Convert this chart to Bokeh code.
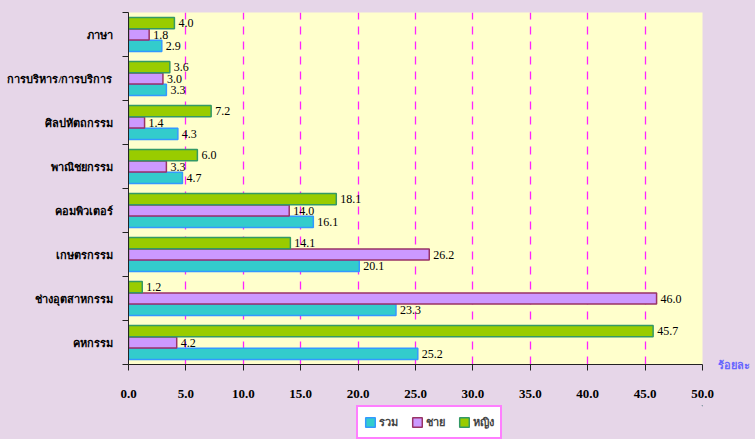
from bokeh.plotting import figure
from bokeh.layouts import column
from bokeh.models import (ColumnDataSource, Range1d, FixedTicker, Legend, LegendItem, LinearAxis)
from bokeh.core.properties import value
from bokeh.embed import file_html
from bokeh.resources import INLINE

# Data (top to bottom as in the chart)
categories = ["ภาษา", "การบริหาร/การบริการ", "ศิลปหัตถกรรม", "พาณิชยกรรม",
              "คอมพิวเตอร์", "เกษตรกรรม", "ช่างอุตสาหกรรม", "คหกรรม"]
total = [2.9, 3.3, 4.3, 4.7, 16.1, 20.1, 23.3, 25.2]   # รวม
male = [1.8, 3.0, 1.4, 3.3, 14.0, 26.2, 46.0, 4.2]     # ชาย
female = [4.0, 3.6, 7.2, 6.0, 18.1, 14.1, 1.2, 45.7]   # หญิง
series_names = ["รวม", "ชาย", "หญิง"]
x_ticks = [0, 5, 10, 15, 20, 25, 30, 35, 40, 45, 50]
x_tick_labels = ["0.0", "5.0", "10.0", "15.0", "20.0", "25.0", "30.0", "35.0", "40.0", "45.0", "50.0"]
unit_label = "ร้อยละ"

n = len(categories)
centers = [n - 1 - i + 0.5 for i in range(n)]

SERIF = "Liberation Serif"
BG = "#E6D6E8"

p = figure(width=755, height=405, output_backend="svg", toolbar_location=None,
           x_range=Range1d(0, 50), y_range=Range1d(0, n),
           min_border_left=128, min_border_right=53, min_border_top=12, min_border_bottom=41)
p.background_fill_color = "#FFFFCC"
p.border_fill_color = BG
p.outline_line_color = None

bar_h = 0.255
offsets = {"รวม": -0.26, "ชาย": 0.0, "หญิง": 0.26}
styles = {
    "รวม": ("#33CCCC", "#3399FF", total),
    "ชาย": ("#CC99FF", "#993366", male),
    "หญิง": ("#99CC00", "#339966", female),
}
for name in series_names:
    fill, line, vals = styles[name]
    ys = [c + offsets[name] for c in centers]
    src = ColumnDataSource(dict(y=ys, v=vals, t=[f"{x:.1f}" for x in vals]))
    p.hbar(y="y", left=0, right="v", height=bar_h, source=src,
           fill_color=fill, line_color=line, line_width=1.5)
    p.text(x="v", y="y", text="t", source=src, x_offset=4, text_baseline="middle",
           text_align="left", text_font=value(SERIF), text_font_size="12px",
           text_color="#000000")

# grid
p.ygrid.grid_line_color = None
p.xgrid.ticker = FixedTicker(ticks=x_ticks)
p.xgrid.grid_line_color = "#FF22FF"
p.xgrid.grid_line_dash = "8 7"
p.xgrid.grid_line_width = 1.3

# x axis
xa = p.xaxis[0]
xa.ticker = FixedTicker(ticks=x_ticks, minor_ticks=[])
xa.major_label_overrides = {t: l for t, l in zip(x_ticks, x_tick_labels)}
xa.major_tick_out = 6
xa.major_tick_in = 0
xa.major_tick_line_color = "#222222"
xa.axis_line_color = "#222222"
xa.axis_line_width = 1
xa.major_label_standoff = 19
xa.major_label_text_font = SERIF
xa.major_label_text_font_style = "bold"
xa.major_label_text_font_size = "13px"
xa.major_label_text_color = "#000000"

# y axis
ya = p.yaxis[0]
ya.ticker = FixedTicker(ticks=centers, minor_ticks=list(range(n + 1)))
ya.major_label_overrides = {c: cat for c, cat in zip(centers, categories)}
ya.major_tick_out = 0
ya.major_tick_in = 0
ya.minor_tick_out = 6
ya.minor_tick_in = 0
ya.minor_tick_line_color = "#222222"
ya.axis_line_color = "#222222"
ya.major_label_standoff = 10
ya.major_label_text_font = SERIF
ya.major_label_text_font_style = "bold"
ya.major_label_text_font_size = "11px"
ya.major_label_text_color = "#000000"

# unit label "ร้อยละ" at the right end of the value axis
ra = LinearAxis(ticker=FixedTicker(ticks=[0], minor_ticks=[]),
                major_label_overrides={0: unit_label},
                axis_line_color=None, major_tick_line_color=None, minor_tick_line_color=None,
                major_label_standoff=9, major_label_text_font=SERIF,
                major_label_text_font_style="bold", major_label_text_font_size="11px",
                major_label_text_color="#6666FF")
p.add_layout(ra, "right")

# legend strip below the chart
lg = figure(width=755, height=34, output_backend="svg", toolbar_location=None,
            x_range=Range1d(0, 1), y_range=Range1d(0, 1),
            x_axis_location=None, y_axis_location=None,
            min_border_left=0, min_border_right=0, min_border_top=0, min_border_bottom=0)
lg.background_fill_alpha = 0
lg.border_fill_alpha = 0
lg.outline_line_color = None
lg.grid.visible = False
items = []
for name in series_names:
    fill, line, _ = styles[name]
    r = lg.hbar(y=[10], left=[10], right=[11], height=0.5,
                fill_color=fill, line_color=line, line_width=1.5)
    items.append(LegendItem(label=name, renderers=[r]))
legend = Legend(items=items, orientation="horizontal", location=(228, 0),
                border_line_color="#FF00FF", border_line_width=2,
                background_fill_color="#FFFFFF", background_fill_alpha=1.0,
                label_text_font=SERIF, label_text_font_style="bold", label_text_font_size="11px",
                glyph_width=12, glyph_height=12, spacing=12, padding=6, label_standoff=3,
                margin=0)
lg.add_layout(legend, "center")

layout = column(p, lg, spacing=0, styles={"background-color": BG})
open("out.html", "w").write(file_html(layout, INLINE))
